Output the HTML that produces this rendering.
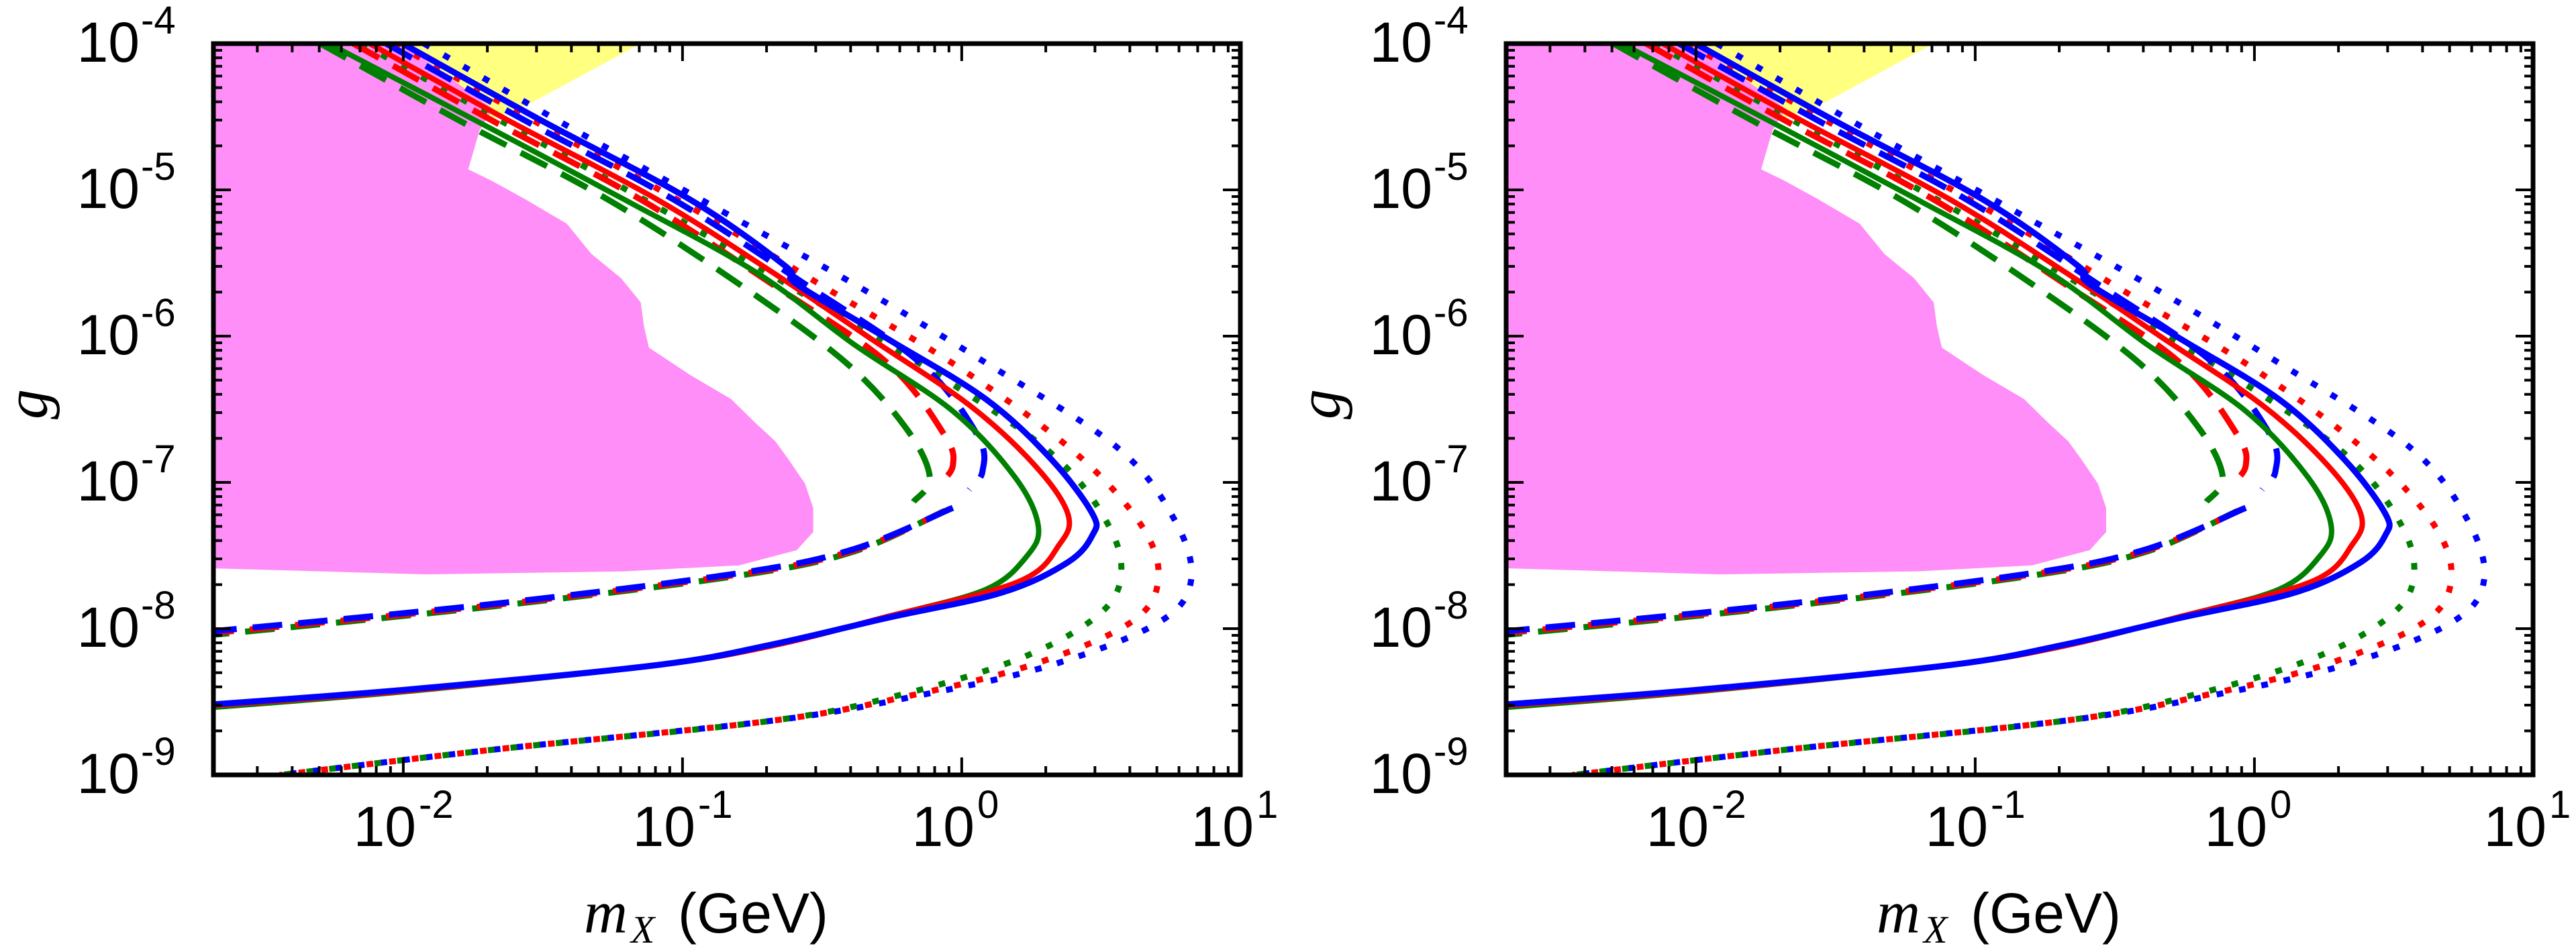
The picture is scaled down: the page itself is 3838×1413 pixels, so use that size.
<!DOCTYPE html>
<html><head><meta charset="utf-8"><style>
html,body{margin:0;padding:0;background:#fff;}
#wrap{position:relative;width:3838px;height:1413px;overflow:hidden;}
svg{position:absolute;left:0;top:0;}
</style></head><body><div id="wrap">
<svg width="3838" height="1413" viewBox="0 0 1568 1568" preserveAspectRatio="none">
<defs>
<clipPath id="c"><rect x="130" y="72" width="625" height="1210"/></clipPath>
<g id="panel">
<polygon fill="#ffff80" points="235,72 390,72 318,178 300,195 270,150"/>
<polygon fill="#ff8ef8" points="130,72 245,72 300,180 292,215 285,280 300,300 320,330 345,370 360,420 378,460 390,500 392,540 395,575 420,620 445,660 460,700 472,730 480,760 490,800 495,840 495,880 485,910 450,935 380,945 260,950 130,940"/>
<g fill="none">
<polyline stroke="#0000ff" stroke-width="9" stroke-dasharray="10 24" vector-effect="non-scaling-stroke" points="258,72 340,200 440,350 520,470 600,600 680,740 715,860 725,960 705,1030 640,1100 560,1150 470,1192 300,1240 170,1282"/>
<polyline stroke="#ff0000" stroke-width="9" stroke-dasharray="10 24" vector-effect="non-scaling-stroke" points="240,72 325,200 425,350 505,480 585,610 655,750 695,870 705,960 688,1030 630,1098 555,1150 470,1192 300,1240 170,1282"/>
<polyline stroke="#008000" stroke-width="9" stroke-dasharray="10 24" vector-effect="non-scaling-stroke" points="220,72 305,200 405,350 485,480 565,610 640,750 675,870 682,960 665,1025 620,1090 550,1148 470,1192 300,1240 170,1282"/>
<polyline stroke="#0000ff" stroke-width="9" stroke-dasharray="44 24" vector-effect="non-scaling-stroke" points="235,72 320,200 410,330 490,470 560,600 595,720 598,780 590,810"/>
<polyline stroke="#ff0000" stroke-width="9" stroke-dasharray="44 24" vector-effect="non-scaling-stroke" points="215,72 300,200 390,330 470,470 540,600 575,720 580,770 572,800"/>
<polyline stroke="#008000" stroke-width="9" stroke-dasharray="44 24" vector-effect="non-scaling-stroke" points="195,72 280,200 370,330 450,470 515,600 552,710 566,790 556,830"/>
<polyline stroke="#008000" stroke-width="9" stroke-dasharray="44 24" vector-effect="non-scaling-stroke" points="575,845 520,912 450,952 300,1003 130,1050"/>
<polyline stroke="#ff0000" stroke-width="9" stroke-dasharray="44 24" vector-effect="non-scaling-stroke" points="578,842 520,910 450,950 300,1001 130,1047"/>
<polyline stroke="#0000ff" stroke-width="9" stroke-dasharray="44 24" vector-effect="non-scaling-stroke" points="580,840 520,908 450,948 300,999 130,1044"/>
<polyline stroke="#008000" stroke-width="8" vector-effect="non-scaling-stroke" points="200,72 290,200 380,330 460,450 520,570 580,680 618,790 632,870 625,920 600,975 540,1020 470,1068 400,1100 250,1143 130,1170"/>
<polyline stroke="#ff0000" stroke-width="8" vector-effect="non-scaling-stroke" points="225,72 310,200 400,330 470,450 530,560 590,670 630,770 650,850 645,900 620,962 540,1020 470,1068 400,1100 250,1142 130,1167"/>
<polyline stroke="#0000ff" stroke-width="9" vector-effect="non-scaling-stroke" points="245,72 330,200 420,330 478,440 485,470 540,560 600,660 640,760 665,850 665,885 650,930 610,980 540,1022 470,1066 400,1100 250,1140 130,1165"/>
</g>
</g>
</defs>
<g clip-path="url(#c)"><use href="#panel"/></g>
<g transform="translate(787,0)"><g clip-path="url(#c)"><use href="#panel"/></g></g>
</svg>
<svg width="3838" height="1413" viewBox="0 0 3838 1413" id="ax">
<g id="axes1" stroke="#000" fill="none"></g>
<g font-family="Liberation Sans, DejaVu Sans, sans-serif" fill="#000">
<g id="lab">
<text x="208" y="92" font-size="84" text-anchor="end">10</text><text x="210" y="50" font-size="58">-4</text>
<text x="208" y="310" font-size="84" text-anchor="end">10</text><text x="210" y="268" font-size="58">-5</text>
<text x="208" y="528" font-size="84" text-anchor="end">10</text><text x="210" y="486" font-size="58">-6</text>
<text x="208" y="746" font-size="84" text-anchor="end">10</text><text x="210" y="704" font-size="58">-7</text>
<text x="208" y="964" font-size="84" text-anchor="end">10</text><text x="210" y="922" font-size="58">-8</text>
<text x="208" y="1182" font-size="84" text-anchor="end">10</text><text x="210" y="1140" font-size="58">-9</text>
<text x="620" y="1261" font-size="84" text-anchor="end">10</text><text x="624" y="1219" font-size="58">-2</text>
<text x="1036" y="1261" font-size="84" text-anchor="end">10</text><text x="1040" y="1219" font-size="58">-1</text>
<text x="1452" y="1261" font-size="84" text-anchor="end">10</text><text x="1456" y="1219" font-size="58">0</text>
<text x="1868" y="1261" font-size="84" text-anchor="end">10</text><text x="1872" y="1219" font-size="58">1</text>
<text x="870" y="1390" font-size="90" font-family="Liberation Serif, serif" font-style="italic">m</text>
<text x="940" y="1405" font-size="58" font-family="Liberation Serif, serif" font-style="italic">X</text>
<text x="1010" y="1390" font-size="84">(GeV)</text>
<text transform="translate(70,625) rotate(-90)" font-size="90" font-family="Liberation Serif, serif" font-style="italic">g</text>
</g>
<use href="#lab" transform="translate(1926,0)"/>
</g>
</svg>
<script>
(function(){
var g=document.getElementById('axes1'),s='';
function panel(ox){
 var L=318+ox,R=1848+ox,T=65,B=1155;
 s+='<rect x="'+L+'" y="'+T+'" width="'+(R-L)+'" height="'+(B-T)+'" stroke-width="7"/>';
 for(var k=-3;k<=1;k++){for(var m=1;m<10;m++){var lx=k+Math.log10(m);var x=318+ox+(lx+2.68)*416;if(x<L+2||x>R-2)continue;var len=(m==1)?26:13;
  s+='<line x1="'+x+'" y1="'+B+'" x2="'+x+'" y2="'+(B-len)+'" stroke-width="4"/><line x1="'+x+'" y1="'+T+'" x2="'+x+'" y2="'+(T+len)+'" stroke-width="4"/>';}}
 for(var k=-9;k<=-4;k++){for(var m=1;m<10;m++){var ly=k+Math.log10(m);var y=65+(-4-ly)*218;if(y<T+2||y>B-2)continue;var len=(m==1)?26:13;
  s+='<line x1="'+L+'" y1="'+y+'" x2="'+(L+len)+'" y2="'+y+'" stroke-width="4"/><line x1="'+R+'" y1="'+y+'" x2="'+(R-len)+'" y2="'+y+'" stroke-width="4"/>';}}
}
panel(0);panel(1926);
g.innerHTML=s;
// smooth polylines into Catmull-Rom paths
var NS='http://www.w3.org/2000/svg';
var pls=document.querySelectorAll('#panel polyline');
for(var i=0;i<pls.length;i++){
 var pl=pls[i];var nums=pl.getAttribute('points').trim().split(/[\s,]+/).map(Number);
 var P=[];for(var j=0;j<nums.length;j+=2)P.push([nums[j],nums[j+1]]);
 var d='M'+P[0][0]+','+P[0][1];
 for(var j=0;j<P.length-1;j++){
  var p0=P[j>0?j-1:j],p1=P[j],p2=P[j+1],p3=P[j+2<P.length?j+2:j+1];
  var c1x=p1[0]+(p2[0]-p0[0])/6,c1y=p1[1]+(p2[1]-p0[1])/6,c2x=p2[0]-(p3[0]-p1[0])/6,c2y=p2[1]-(p3[1]-p1[1])/6;
  d+=' C'+c1x+','+c1y+' '+c2x+','+c2y+' '+p2[0]+','+p2[1];
 }
 var path=document.createElementNS(NS,'path');
 path.setAttribute('d',d);
 ['stroke','stroke-width','stroke-dasharray','vector-effect'].forEach(function(a){if(pl.getAttribute(a))path.setAttribute(a,pl.getAttribute(a));});
 path.setAttribute('fill','none');
 pl.parentNode.replaceChild(path,pl);
}
})();
</script>
</div></body></html>
